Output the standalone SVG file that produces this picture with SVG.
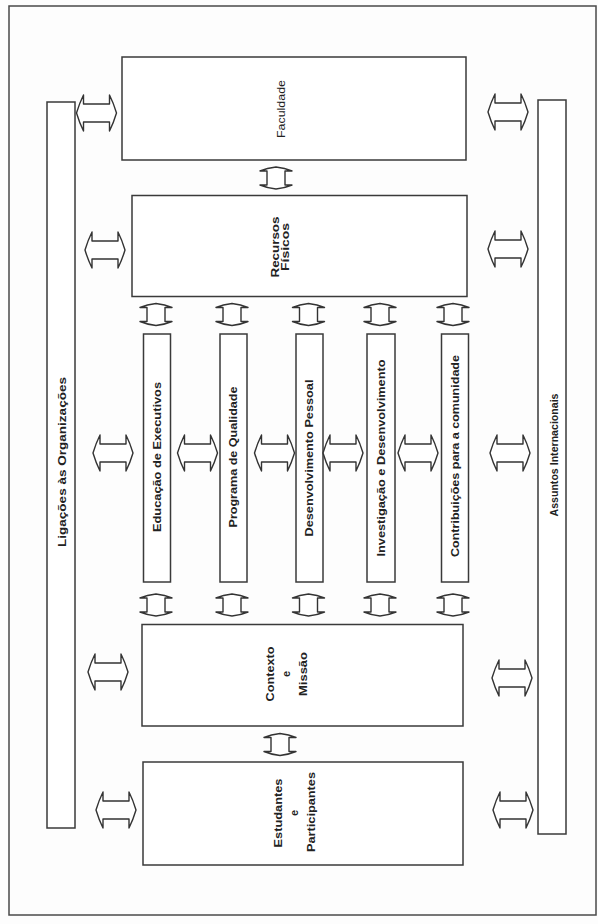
<svg xmlns="http://www.w3.org/2000/svg" xmlns:xlink="http://www.w3.org/1999/xlink" width="598" height="924" viewBox="0 0 598 924">
<style>
.box{fill:#ffffff;stroke:#3a3a3a;stroke-width:1.5}
.frame{fill:none;stroke:#4a4a4a;stroke-width:1.5}
.arr{fill:#ffffff;stroke:#333333;stroke-width:1.4;stroke-linejoin:round}
.t{font-family:"Liberation Sans",Arial,sans-serif;font-size:11px;font-weight:bold;fill:#222222;text-anchor:middle}
.r{font-weight:normal}
</style>
<defs>
<path id="harr" d="M -20,0 Q -17,-10 -13,-18 L -13,-9 L 13,-9 L 13,-18 Q 17,-10 20,0 Q 17,10 13,18 L 13,9 L -13,9 L -13,18 Q -17,10 -20,0 Z"/>
<path id="varr" d="M 0,-11 Q -9,-10 -16,-7 L -9,-7 L -9,7 L -16,7 Q -9,10 0,11 Q 9,10 16,7 L 9,7 L 9,-7 L 16,-7 Q 9,-10 0,-11 Z"/>
</defs>
<rect x="0" y="0" width="598" height="924" fill="#fdfdfd"/>
<rect class="frame" x="9" y="6" width="587" height="909"/>

<g id="ligacoes">
<rect class="box" x="47" y="102" width="28" height="726"/>
<text class="t" transform="translate(62,462) rotate(-90)" dy="0.35em" textLength="170" lengthAdjust="spacingAndGlyphs">Ligações às Organizações</text>
</g>
<g id="assuntos">
<rect class="box" x="538" y="100" width="28" height="734"/>
<text class="t" transform="translate(554,455) rotate(-90)" dy="0.35em" textLength="123" lengthAdjust="spacingAndGlyphs">Assuntos Internacionais</text>
</g>
<g id="faculdade">
<rect class="box" x="122" y="57" width="344" height="103"/>
<text class="t r" transform="translate(281,109) rotate(-90)" dy="0.35em" textLength="58" lengthAdjust="spacingAndGlyphs">Faculdade</text>
</g>
<g id="recursos">
<rect class="box" x="132" y="195.5" width="335" height="101"/>
<text class="t" transform="translate(280,247) rotate(-90)" textLength="61" lengthAdjust="spacingAndGlyphs" dy="-0.7">Recursos</text>
<text class="t" transform="translate(280,247) rotate(-90)" textLength="48" lengthAdjust="spacingAndGlyphs" dy="9">Físicos</text>
</g>
<g id="educacao">
<rect class="box" x="143.5" y="334" width="27" height="248"/>
<text class="t" transform="translate(157,457) rotate(-90)" dy="0.35em" textLength="150" lengthAdjust="spacingAndGlyphs">Educação de Executivos</text>
</g>
<g id="programa">
<rect class="box" x="220" y="334" width="27" height="248"/>
<text class="t" transform="translate(233.5,457) rotate(-90)" dy="0.35em" textLength="141" lengthAdjust="spacingAndGlyphs">Programa de Qualidade</text>
</g>
<g id="desenvolvimento">
<rect class="box" x="296" y="334" width="27" height="248"/>
<text class="t" transform="translate(309.5,458) rotate(-90)" dy="0.35em" textLength="157" lengthAdjust="spacingAndGlyphs">Desenvolvimento Pessoal</text>
</g>
<g id="investigacao">
<rect class="box" x="367" y="334" width="28" height="248"/>
<text class="t" transform="translate(381,458) rotate(-90)" dy="0.35em" textLength="197" lengthAdjust="spacingAndGlyphs">Investigação e Desenvolvimento</text>
</g>
<g id="contribuicoes">
<rect class="box" x="441.5" y="334" width="27" height="248"/>
<text class="t" transform="translate(455,456) rotate(-90)" dy="0.35em" textLength="202" lengthAdjust="spacingAndGlyphs">Contribuições para a comunidade</text>
</g>
<g id="contexto">
<rect class="box" x="142" y="624.5" width="321" height="101.5"/>
<text class="t" transform="translate(286,674) rotate(-90)" dy="-12.5" textLength="55" lengthAdjust="spacingAndGlyphs">Contexto</text>
<text class="t" transform="translate(286,674) rotate(-90)" dy="4">e</text>
<text class="t" transform="translate(286,674) rotate(-90)" dy="20.5" textLength="44" lengthAdjust="spacingAndGlyphs">Missão</text>
</g>
<g id="estudantes">
<rect class="box" x="143" y="762" width="320" height="103"/>
<text class="t" transform="translate(294,813) rotate(-90)" dy="-12.5" textLength="69" lengthAdjust="spacingAndGlyphs">Estudantes</text>
<text class="t" transform="translate(294,813) rotate(-90)" dy="4">e</text>
<text class="t" transform="translate(294,812) rotate(-90)" dy="20.5" textLength="80" lengthAdjust="spacingAndGlyphs">Participantes</text>
</g>

<g id="connectors">
<use xlink:href="#harr" href="#harr" class="arr" x="96.5" y="113"/>
<use xlink:href="#harr" href="#harr" class="arr" x="105" y="250"/>
<use xlink:href="#harr" href="#harr" class="arr" x="113" y="453"/>
<use xlink:href="#harr" href="#harr" class="arr" x="108" y="672"/>
<use xlink:href="#harr" href="#harr" class="arr" x="116" y="810"/>
<use xlink:href="#harr" href="#harr" class="arr" x="508" y="112"/>
<use xlink:href="#harr" href="#harr" class="arr" x="508" y="249"/>
<use xlink:href="#harr" href="#harr" class="arr" x="510" y="453"/>
<use xlink:href="#harr" href="#harr" class="arr" x="512" y="678"/>
<use xlink:href="#harr" href="#harr" class="arr" x="513" y="810"/>
<use xlink:href="#harr" href="#harr" class="arr" x="197.5" y="453"/>
<use xlink:href="#harr" href="#harr" class="arr" x="274.5" y="453"/>
<use xlink:href="#harr" href="#harr" class="arr" x="343" y="453"/>
<use xlink:href="#harr" href="#harr" class="arr" x="418" y="453"/>
<use xlink:href="#varr" href="#varr" class="arr" x="276" y="178"/>
<use xlink:href="#varr" href="#varr" class="arr" x="280" y="744.5"/>
<use xlink:href="#varr" href="#varr" class="arr" x="156" y="314.5"/>
<use xlink:href="#varr" href="#varr" class="arr" x="232" y="314.5"/>
<use xlink:href="#varr" href="#varr" class="arr" x="308.5" y="314.5"/>
<use xlink:href="#varr" href="#varr" class="arr" x="380" y="314.5"/>
<use xlink:href="#varr" href="#varr" class="arr" x="453" y="314.5"/>
<use xlink:href="#varr" href="#varr" class="arr" x="156" y="605"/>
<use xlink:href="#varr" href="#varr" class="arr" x="232" y="605"/>
<use xlink:href="#varr" href="#varr" class="arr" x="308.5" y="605"/>
<use xlink:href="#varr" href="#varr" class="arr" x="380" y="605"/>
<use xlink:href="#varr" href="#varr" class="arr" x="453" y="605"/>
</g>
</svg>
